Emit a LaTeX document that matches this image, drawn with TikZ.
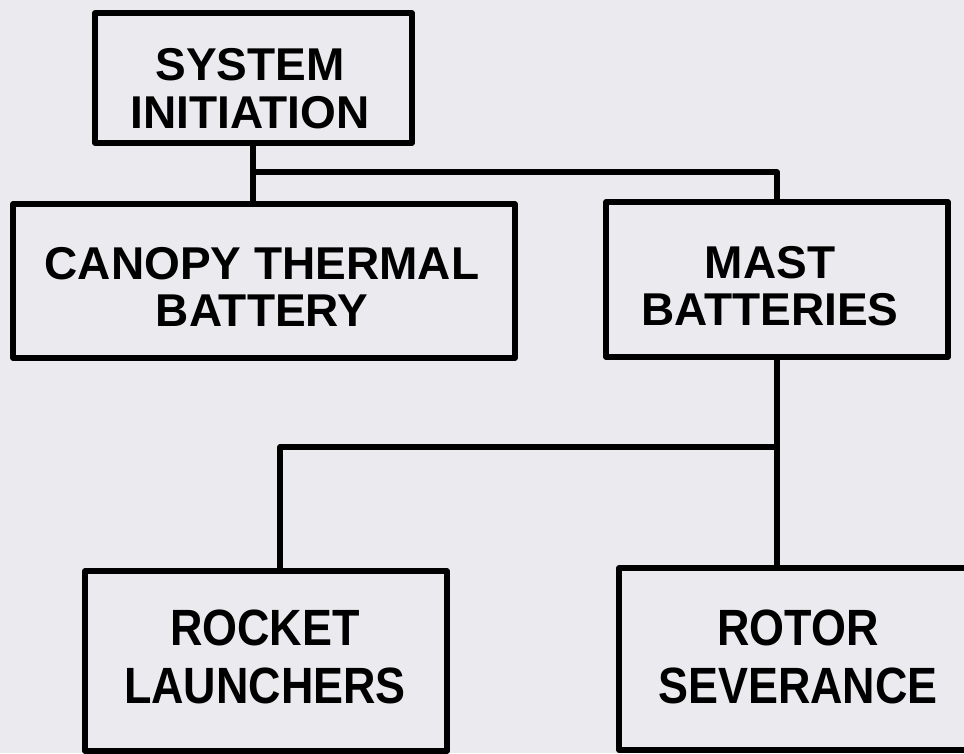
\documentclass[tikz,border=0pt]{standalone}
\usepackage{fontspec}
\setmainfont{Liberation Sans}
\newfontfamily\narrowfont{Liberation Sans}[FakeStretch=0.88]
\definecolor{paper}{RGB}{235,234,239}
\begin{document}
\begin{tikzpicture}[x=1pt,y=-1pt,
  box/.style={draw=black, line width=5.5pt, line join=round, inner sep=0pt},
  wire/.style={draw=black, line width=5.5pt, line join=round},
  lbl/.style={align=center, inner sep=0pt, font=\bfseries\fontsize{46}{#1}\selectfont},
  lbl/.default=48,
  tall/.style={align=center, inner sep=0pt, font=\narrowfont\bfseries\fontsize{51}{58}\selectfont}]
\fill[paper] (0,0) rectangle (964,753);
\useasboundingbox (0,0) rectangle (964,753);
% boxes
\node[box, minimum width=317pt, minimum height=130pt] (si) at (253.5,78) {};
\node[box, minimum width=502pt, minimum height=154pt] (canopy) at (264,281) {};
\node[box, minimum width=342pt, minimum height=155pt] (mast) at (777,279.5) {};
\node[box, minimum width=362pt, minimum height=180pt] (rocket) at (266,661) {};
\node[box, minimum width=356pt, minimum height=182pt] (rotor) at (797,659) {};
% texts
\node[lbl=48] (si-t) at (250,89) {SYSTEM\\INITIATION};
\node[lbl=47] (canopy-t) at (262,287) {CANOPY THERMAL\\BATTERY};
\node[lbl=47] (mast-t) at (770,286) {MAST\\BATTERIES};
\node[tall] (rocket-t) at (265,657) {ROCKET\\LAUNCHERS};
\node[tall] (rotor-t) at (798,657) {ROTOR\\SEVERANCE};
% junctions
\coordinate (j1) at (253,172);
\coordinate (j2) at (777,447);
\coordinate (j3) at (280,447);
% connectors
\draw[wire] (si.south -| j1) -- (j1 |- canopy.north);
\draw[wire] (j1) -| (mast.north);
\draw[wire] (mast.south) -- (mast.south |- rotor.north);
\draw[wire] (j2) -- (j3) -- (j3 |- rocket.north);
\end{tikzpicture}
\end{document}
